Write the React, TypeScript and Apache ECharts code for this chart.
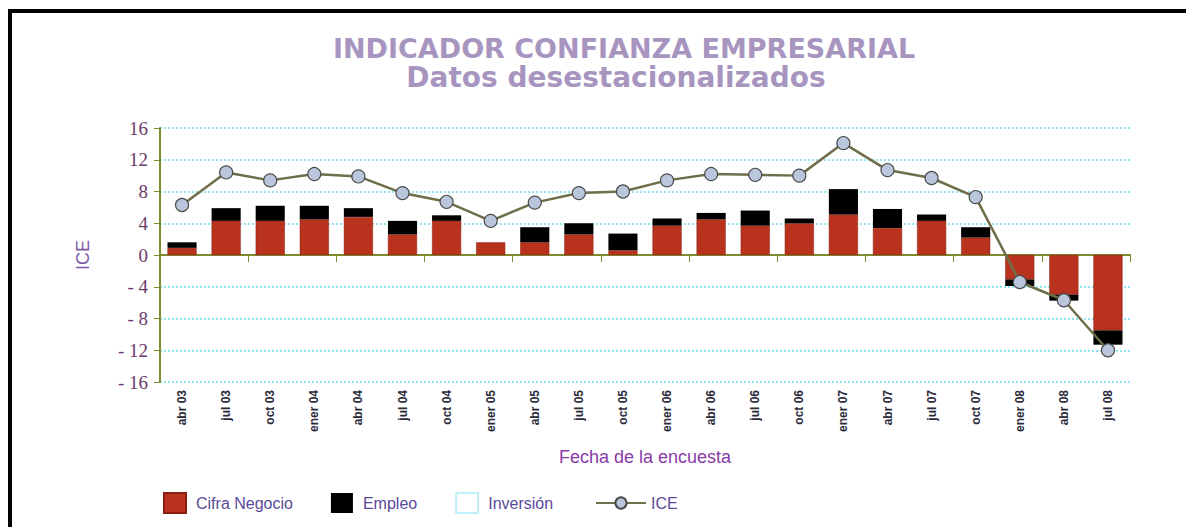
import React, { useEffect, useRef } from "react";
import * as echarts from "echarts";

const categories = [
  "abr 03", "jul 03", "oct 03", "ener 04", "abr 04", "jul 04", "oct 04", "ener 05",
  "abr 05", "jul 05", "oct 05", "ener 06", "abr 06", "jul 06", "oct 06", "ener 07",
  "abr 07", "jul 07", "oct 07", "ener 08", "abr 08", "jul 08",
];
const cifraNegocio = [0.9, 4.3, 4.3, 4.5, 4.8, 2.6, 4.3, 1.6, 1.6, 2.6, 0.6, 3.7, 4.5, 3.7, 4.0, 5.1, 3.4, 4.3, 2.2, -3.1, -5.0, -9.5];
const empleo = [0.7, 1.6, 1.9, 1.7, 1.1, 1.7, 0.7, 0.0, 1.9, 1.4, 2.1, 0.9, 0.8, 1.9, 0.6, 3.2, 2.4, 0.8, 1.3, -0.8, -0.75, -1.8];
const inversion: (number | null)[] = categories.map(() => null);
const ice = [6.3, 10.4, 9.4, 10.2, 9.9, 7.8, 6.7, 4.3, 6.6, 7.8, 8.0, 9.4, 10.2, 10.1, 10.0, 14.1, 10.7, 9.7, 7.3, -3.4, -5.7, -12.0];

const yMin = -16;
const yMax = 16;
const yStep = 4;

export default function App() {
  const ref = useRef<HTMLDivElement>(null);
  useEffect(() => {
    if (!ref.current) return;
    const chart = echarts.init(ref.current, undefined, { renderer: "svg" });
    const axisColor = "#7f8a2e";
    const gridColor = "#8fe6f2";
    const legendFont = "'Liberation Sans', Arial, sans-serif";
    chart.setOption({
      animation: false,
      backgroundColor: "#ffffff",
      graphic: [
        {
          type: "rect",
          shape: { x: 10, y: 11, width: 1200, height: 600 },
          style: { fill: "none", stroke: "#000", lineWidth: 4 },
          z: 100,
        },
        {
          type: "text",
          x: 624,
          y: 48,
          style: {
            text: "INDICADOR CONFIANZA EMPRESARIAL",
            align: "center",
            verticalAlign: "middle",
            font: "bold 27px 'DejaVu Sans', sans-serif",
            fill: "#a795c0",
          },
        },
        {
          type: "text",
          x: 616,
          y: 77,
          style: {
            text: "Datos desestacionalizados",
            align: "center",
            verticalAlign: "middle",
            font: "bold 28px 'DejaVu Sans', sans-serif",
            fill: "#a795c0",
          },
        },
      ],
      legend: [
        {
          data: ["Cifra Negocio", "Empleo", "Inversión"],
          left: 158,
          top: 487,
          icon: "rect",
          itemWidth: 22,
          itemHeight: 20,
          itemGap: 38,
          textStyle: { fontFamily: legendFont, fontSize: 16, color: "#5a4a9a", padding: [0, 0, 0, 5] },
          selectedMode: false,
        },
        {
          data: ["ICE"],
          left: 590,
          top: 490,
          itemWidth: 50,
          itemHeight: 14,
          textStyle: { fontFamily: legendFont, fontSize: 16, color: "#5a4a9a" },
          selectedMode: false,
        },
      ],
      grid: { left: 160, right: 56, top: 128, bottom: 145, containLabel: false },
      xAxis: [
        {
          type: "category",
          data: categories,
          position: "bottom",
          axisLine: { onZero: true, lineStyle: { color: axisColor, width: 2 } },
          axisTick: { show: true, inside: false, length: 7, alignWithLabel: false, lineStyle: { color: axisColor } },
          axisLabel: { show: false },
          splitLine: { show: false },
        },
        {
          type: "category",
          data: categories,
          position: "bottom",
          axisLine: { show: false, onZero: false },
          axisTick: { show: false },
          axisLabel: {
            rotate: 90,
            interval: 0,
            margin: 8,
            fontSize: 12,
            fontWeight: "bold",
            fontFamily: "'Liberation Sans', Arial, sans-serif",
            color: "#2a2a3a",
          },
          name: "Fecha de la encuesta",
          nameLocation: "middle",
          nameGap: 66,
          nameTextStyle: { fontSize: 18, color: "#8a3aa8", fontFamily: "'Liberation Sans', Arial, sans-serif" },
        },
      ],
      yAxis: {
        type: "value",
        min: yMin,
        max: yMax,
        interval: yStep,
        name: "ICE",
        nameLocation: "middle",
        nameGap: 68,
        nameRotate: 90,
        nameTextStyle: { fontSize: 18, color: "#7a5aa8", fontFamily: "'Liberation Sans', Arial, sans-serif" },
        axisLine: { show: true, lineStyle: { color: axisColor, width: 2 } },
        axisTick: { show: true, length: 6, lineStyle: { color: axisColor } },
        axisLabel: {
          margin: 12,
          fontSize: 19,
          fontFamily: "'Liberation Serif', serif",
          color: "#6b3a6b",
          formatter: (v: number) => (v < 0 ? "- " + Math.abs(v) : String(v)),
        },
        splitLine: { show: true, lineStyle: { color: gridColor, type: "dotted", width: 2 } },
      },
      series: [
        {
          name: "Cifra Negocio",
          type: "bar",
          stack: "total",
          barWidth: "66%",
          data: cifraNegocio,
          itemStyle: { color: "#b8321e", borderColor: "#8a1e10", borderWidth: 0.5 },
        },
        {
          name: "Empleo",
          type: "bar",
          stack: "total",
          data: empleo,
          itemStyle: { color: "#000000" },
        },
        {
          name: "Inversión",
          type: "bar",
          stack: "total",
          data: inversion,
          itemStyle: { color: "#ffffff", borderColor: "#bfeff8", borderWidth: 1, borderType: "dotted" },
        },
        {
          name: "ICE",
          type: "line",
          data: ice,
          symbol: "circle",
          symbolSize: 13,
          lineStyle: { color: "#6e6e4a", width: 2.5 },
          itemStyle: { color: "#b9c6dc", borderColor: "#4a4a4a", borderWidth: 1.2 },
          z: 5,
        },
      ],
    });
    return () => chart.dispose();
  }, []);
  return (
    <div
      ref={ref}
      style={{ position: "fixed", left: 0, top: 0, width: 1186, height: 527 }}
    />
  );
}
